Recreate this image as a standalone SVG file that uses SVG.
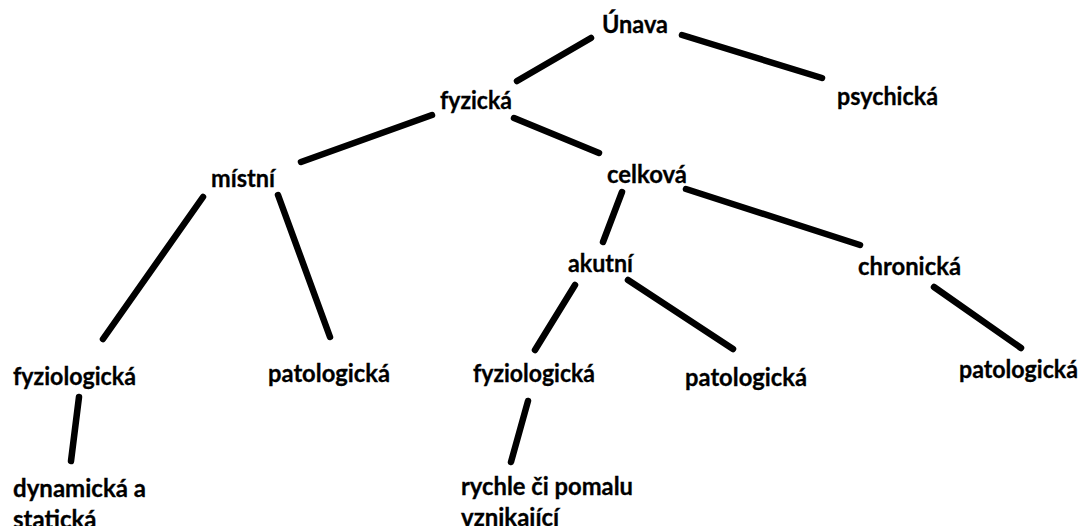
<svg xmlns="http://www.w3.org/2000/svg" width="1083" height="526" viewBox="0 0 1083 526">
<style>
.t{font-family:Lato,"Open Sans","Liberation Sans",sans-serif;font-weight:bold;font-size:24px;fill:#000;stroke:#000;stroke-width:0.3}
.c line{stroke:#000;stroke-width:6.5;stroke-linecap:round}
</style>
<rect width="1083" height="526" fill="#fff"/>
<g class="c" id="connectors">
<line x1="517" y1="81" x2="591" y2="38"/>
<line x1="682" y1="35" x2="822" y2="78"/>
<line x1="432" y1="115" x2="301" y2="162"/>
<line x1="514" y1="118" x2="599" y2="153"/>
<line x1="203" y1="197" x2="103" y2="339"/>
<line x1="278" y1="195" x2="330" y2="337"/>
<line x1="622" y1="192" x2="603" y2="242"/>
<line x1="686" y1="189" x2="860" y2="245"/>
<line x1="575" y1="285" x2="535" y2="350"/>
<line x1="628" y1="280" x2="733" y2="349"/>
<line x1="934" y1="287" x2="1021" y2="348"/>
<line x1="79" y1="397" x2="71" y2="461"/>
<line x1="528" y1="401" x2="511" y2="462"/>
</g>
<g id="unava"><text class="t" x="602" y="33" textLength="66" lengthAdjust="spacingAndGlyphs">Únava</text></g>
<g id="psychicka"><text class="t" x="837" y="105" textLength="101" lengthAdjust="spacingAndGlyphs">psychická</text></g>
<g id="fyzicka"><text class="t" x="440" y="109" textLength="72" lengthAdjust="spacingAndGlyphs">fyzická</text></g>
<g id="mistni"><text class="t" x="211" y="187" textLength="64" lengthAdjust="spacingAndGlyphs">místní</text></g>
<g id="celkova"><text class="t" x="607" y="183" textLength="80" lengthAdjust="spacingAndGlyphs">celková</text></g>
<g id="akutni"><text class="t" x="568" y="272" textLength="65" lengthAdjust="spacingAndGlyphs">akutní</text></g>
<g id="chronicka"><text class="t" x="858" y="275" textLength="103" lengthAdjust="spacingAndGlyphs">chronická</text></g>
<g id="fyziologicka-l"><text class="t" x="13" y="385" textLength="123" lengthAdjust="spacingAndGlyphs">fyziologická</text></g>
<g id="patologicka-l"><text class="t" x="268" y="382" textLength="122" lengthAdjust="spacingAndGlyphs">patologická</text></g>
<g id="fyziologicka-m"><text class="t" x="473" y="382" textLength="122" lengthAdjust="spacingAndGlyphs">fyziologická</text></g>
<g id="patologicka-m"><text class="t" x="685" y="386" textLength="122" lengthAdjust="spacingAndGlyphs">patologická</text></g>
<g id="patologicka-r"><text class="t" x="959" y="378" textLength="119" lengthAdjust="spacingAndGlyphs">patologická</text></g>
<g id="dynamicka"><text class="t" x="13" y="497"><tspan textLength="133" lengthAdjust="spacingAndGlyphs">dynamická a</tspan><tspan x="13" y="528">statická</tspan></text></g>
<g id="rychle"><text class="t" x="461" y="495"><tspan textLength="172" lengthAdjust="spacingAndGlyphs">rychle či pomalu</tspan><tspan x="461" y="526">vznikající</tspan></text></g>
</svg>
